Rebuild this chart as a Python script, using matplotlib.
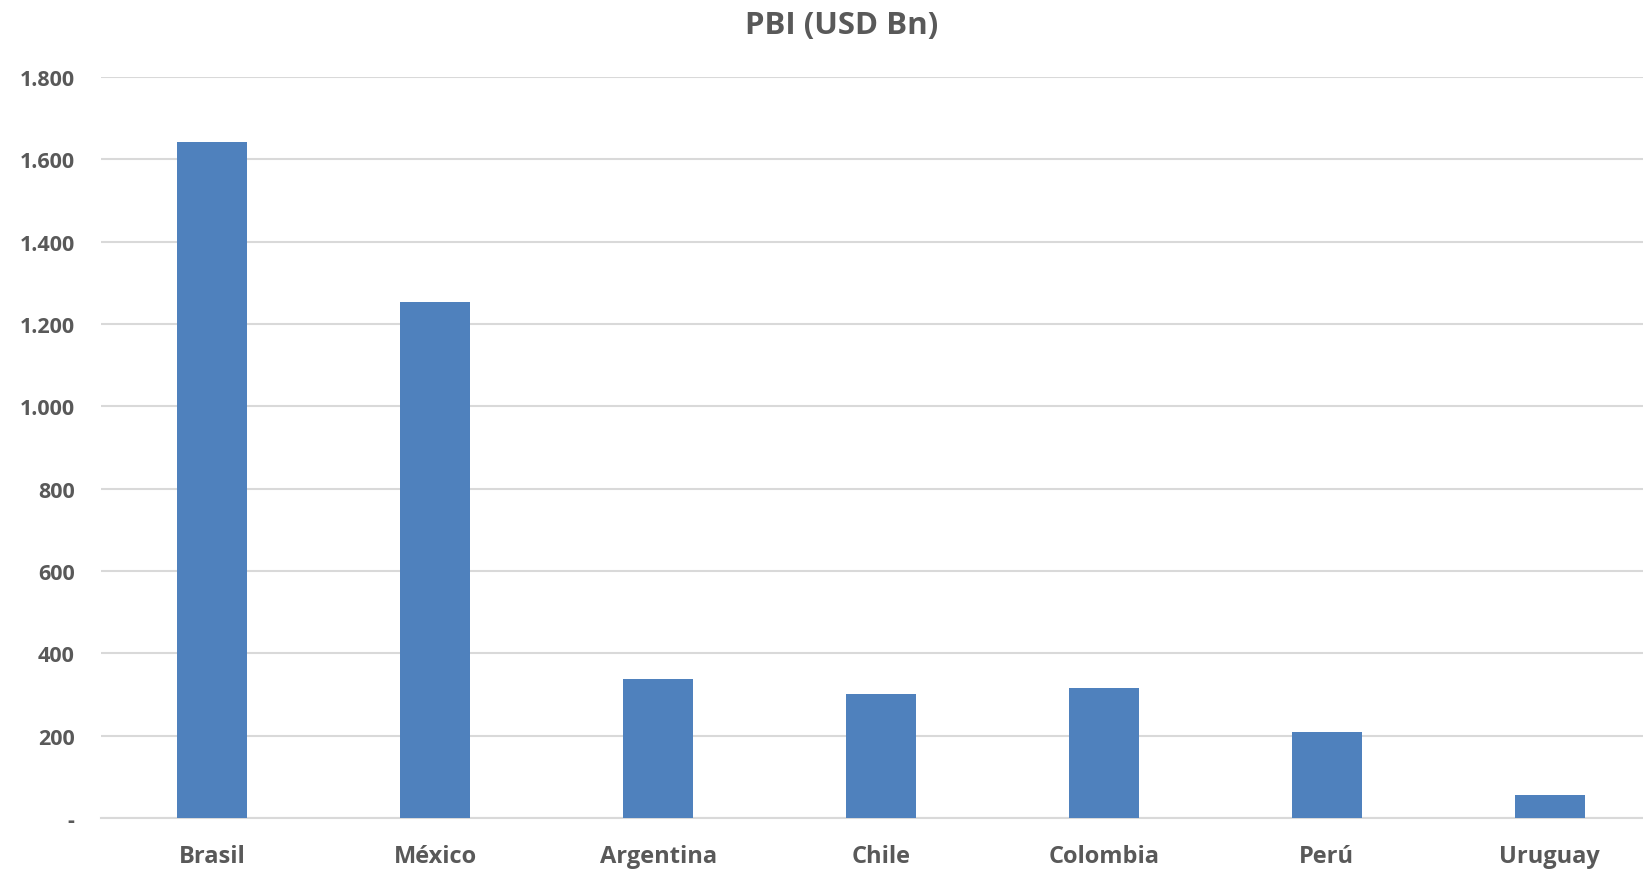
import matplotlib
matplotlib.use("Agg")
import matplotlib.pyplot as plt
from matplotlib.ticker import FuncFormatter, MultipleLocator

paises = ["Brasil", "México", "Argentina", "Chile", "Colombia", "Perú", "Uruguay"]
pbi = [1643, 1253, 338, 301, 315, 208, 57]

plt.rcParams['font.family'] = ['Open Sans', 'DejaVu Sans']
gris = "#595959"

fig = plt.figure(figsize=(16.43, 8.70), dpi=100)
ax = fig.add_axes([101/1643, 51/870, 1560/1643, 741/870])

x = list(range(len(paises)))
ax.bar(x, pbi, width=0.314, color="#4F81BD", zorder=3)
ax.set_xlim(-0.5, len(paises) - 0.5)
ax.set_ylim(0, 1800)
ax.yaxis.set_major_locator(MultipleLocator(200))

def fmt(v, pos):
    if v == 0:
        return "-"
    return f"{int(v):,}".replace(",", ".")

ax.yaxis.set_major_formatter(FuncFormatter(fmt))
ax.set_xticks(x)
ax.set_xticklabels(paises)
ax.grid(axis="y", color="#D9D9D9", linewidth=1.5, zorder=0)
for s in ["top", "right", "left"]:
    ax.spines[s].set_visible(False)
ax.spines["bottom"].set_color("#D9D9D9")
ax.spines["bottom"].set_linewidth(1.5)
ax.tick_params(axis="both", length=0)
ax.tick_params(axis="x", pad=19, labelsize=17, labelcolor=gris)
ax.tick_params(axis="y", pad=19, labelsize=15.5, labelcolor=gris)
for lbl in ax.get_xticklabels() + ax.get_yticklabels():
    lbl.set_fontweight("bold")

fig.text(842/1643, 1 - 26/870, "PBI (USD Bn)", ha="center", va="center",
         fontsize=22.5, fontweight="bold", color=gris)

fig.savefig("out.png", dpi=100)
